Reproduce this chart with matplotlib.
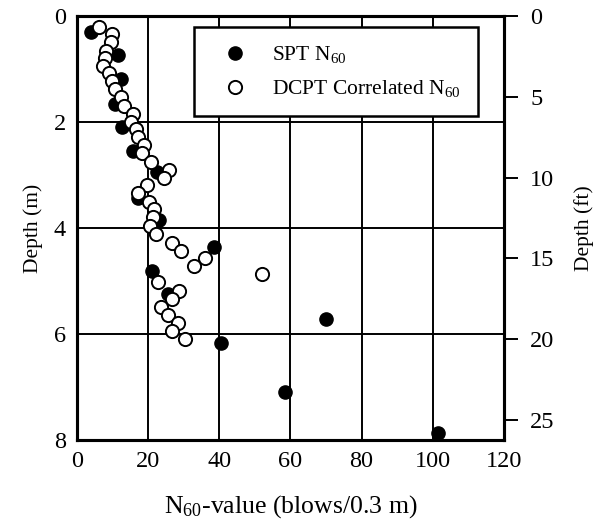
import matplotlib.pyplot as plt

# フォント設定 (Times 風)
plt.rcParams['font.family'] = ['Liberation Serif', 'DejaVu Serif']
plt.rcParams['mathtext.fontset'] = 'custom'
plt.rcParams['mathtext.rm'] = 'Liberation Serif'
plt.rcParams['mathtext.it'] = 'Liberation Serif:italic'
plt.rcParams['font.size'] = 17

# SPT N60 (黒丸)
spt_n60 = [3.9, 11.5, 12.4, 10.7, 12.7, 15.8, 22.5, 17.2, 23.1, 38.6,
           21.1, 25.6, 70.1, 40.6, 58.6, 101.4]
spt_depth = [0.30, 0.74, 1.19, 1.66, 2.09, 2.55, 2.95, 3.44, 3.85, 4.36,
             4.81, 5.24, 5.72, 6.17, 7.09, 7.87]

# DCPT から換算した N60 (白丸)
dcpt_n60 = [6.2, 9.9, 9.5, 8.2, 7.9, 7.4, 9.1, 9.9, 10.7, 12.4,
            13.2, 15.8, 15.2, 16.6, 17.2, 18.9, 18.3, 20.8, 25.9, 24.5,
            19.7, 17.2, 20.3, 21.7, 21.4, 20.6, 22.3, 26.8, 29.3, 36.1,
            33.0, 52.1, 22.8, 28.7, 26.8, 23.7, 25.6, 28.4, 26.8, 30.4]
dcpt_depth = [0.21, 0.34, 0.50, 0.66, 0.80, 0.94, 1.08, 1.22, 1.38, 1.53,
              1.70, 1.85, 2.00, 2.14, 2.28, 2.43, 2.59, 2.76, 2.91, 3.06,
              3.19, 3.34, 3.51, 3.64, 3.79, 3.96, 4.12, 4.28, 4.43, 4.57,
              4.72, 4.87, 5.02, 5.18, 5.34, 5.49, 5.64, 5.79, 5.94, 6.09]

x_ticks = [0, 20, 40, 60, 80, 100, 120]
y_ticks_m = [0, 2, 4, 6, 8]
y_ticks_ft = [0, 5, 10, 15, 20, 25]

fig = plt.figure(figsize=(6.02, 5.29), dpi=100)
ax = fig.add_axes([0.128, 0.168, 0.709, 0.802])

ax.plot(spt_n60, spt_depth, 'o', color='black', markersize=9.5,
        label=r'SPT N$_{60}$', zorder=3)
ax.plot(dcpt_n60, dcpt_depth, 'o', markerfacecolor='white',
        markeredgecolor='black', markeredgewidth=1.4, markersize=9.5,
        label=r'DCPT Correlated N$_{60}$', zorder=4)

ax.set_xlim(0, 120)
ax.set_ylim(8, 0)
ax.set_xticks(x_ticks)
ax.set_yticks(y_ticks_m)
ax.grid(True, color='black', linewidth=1.4)
ax.set_axisbelow(True)
ax.tick_params(length=0, pad=8, labelsize=17.5)
for s in ax.spines.values():
    s.set_linewidth(2.2)

ax.set_xlabel(r'N$_{60}$-value (blows/0.3 m)', labelpad=15, fontsize=18.5)
ax.set_ylabel('Depth (m)', labelpad=8, fontsize=15.5)

# 右軸 (ft)
ax2 = ax.twinx()
ax2.set_ylim(8 / 0.3048, 0)
ax2.set_yticks(y_ticks_ft)
ax2.tick_params(axis='y', length=10, width=1.4, pad=9, labelsize=17.5)
ax2.set_ylabel('Depth (ft)', labelpad=14, fontsize=15.5)
for s in ax2.spines.values():
    s.set_linewidth(2.2)

leg = ax.legend(loc='upper left', bbox_to_anchor=(0.274, 0.974),
                borderaxespad=0, fancybox=False, framealpha=1,
                edgecolor='black', handletextpad=0.63, borderpad=0.8,
                labelspacing=0.6, handlelength=2.2, fontsize=15.5)
leg.get_frame().set_linewidth(1.8)
leg.set_zorder(10)

fig.savefig('out.png', dpi=100)
